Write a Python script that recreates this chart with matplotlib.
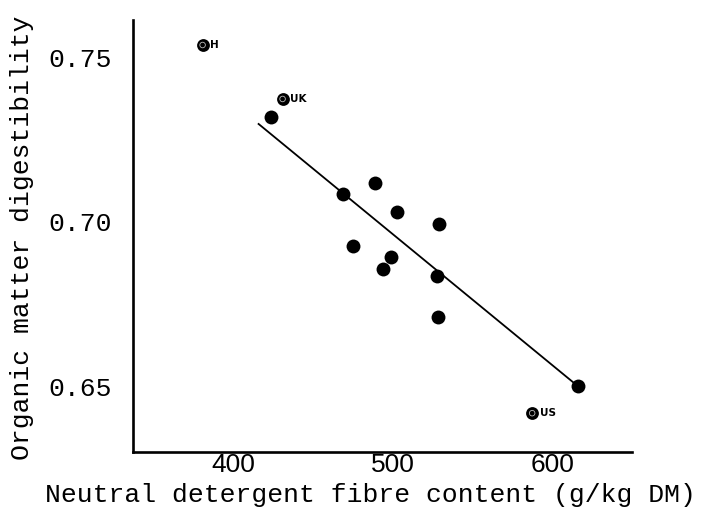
import matplotlib
matplotlib.use("Agg")
import matplotlib.pyplot as plt

# Data
ndf = [424, 469, 489, 502.5, 529, 475, 499, 494, 527.5, 528, 615.6]
omd = [0.7318, 0.7084, 0.7118, 0.7029, 0.6993, 0.6926, 0.6893, 0.6856, 0.6835, 0.6710, 0.6500]

special_names = ["H", "UK", "US"]
special_ndf = [381, 431, 587]
special_omd = [0.7537, 0.7373, 0.6418]

fit_ndf = [416, 615.6]
fit_omd = [0.7297, 0.6500]

xticks = [400, 500, 600]
yticks = [0.65, 0.70, 0.75]
ytick_labels = ["0.65", "0.70", "0.75"]

xlabel = "Neutral detergent fibre content (g/kg DM)"
ylabel = "Organic matter digestibility"

W, H = 703, 514
fig = plt.figure(figsize=(W / 100, H / 100), dpi=100)
ax = fig.add_axes([133 / W, 1 - 452 / H, (632 - 133) / W, (452 - 20) / H])

ax.set_xlim(337.5, 649.4)
ax.set_ylim(0.6300, 0.7613)

for s in ["top", "right"]:
    ax.spines[s].set_visible(False)
for s in ["left", "bottom"]:
    ax.spines[s].set_linewidth(1.9)
    ax.spines[s].set_color("black")

ax.plot(fit_ndf, fit_omd, color="black", lw=1.3, zorder=2)
ax.scatter(ndf, omd, s=100, color="black", zorder=3, linewidths=0)

ax.scatter(special_ndf, special_omd, s=85, color="black", zorder=3, linewidths=0)
ax.scatter(special_ndf, special_omd, s=16, facecolor="none", edgecolor="#bbbbbb",
           linewidths=0.6, zorder=4)
for name, x, y in zip(special_names, special_ndf, special_omd):
    ax.annotate(name, (x, y), xytext=(5.5, 0), textcoords="offset points",
                va="center", ha="left", fontsize=7.5, fontweight="bold",
                family="DejaVu Sans", color="black")

ax.set_xticks(xticks)
ax.set_xticklabels([str(t) for t in xticks], family="Liberation Sans", fontsize=19)
ax.set_yticks(yticks)
ax.set_yticklabels(ytick_labels, family="Liberation Mono", fontsize=19)
ax.tick_params(axis="both", length=0)
ax.tick_params(axis="x", pad=1)
ax.tick_params(axis="y", pad=15)

fig.text(45 / W, 1 - 495 / H, xlabel, family="Liberation Mono", fontsize=19,
         ha="left", va="center")
fig.text(22 / W, 1 - 238 / H, ylabel, family="Liberation Mono", fontsize=19,
         rotation=90, ha="center", va="center")

fig.savefig("out.png", dpi=100)
